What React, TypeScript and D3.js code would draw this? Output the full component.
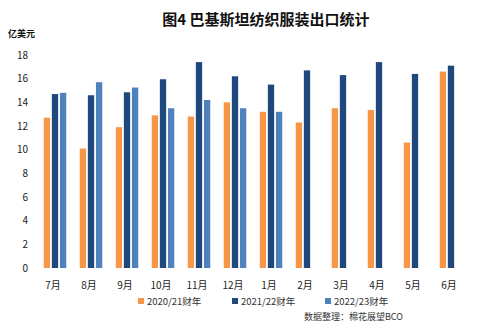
import React from "react";
import * as d3 from "d3";

const months = ["7月", "8月", "9月", "10月", "11月", "12月", "1月", "2月", "3月", "4月", "5月", "6月"];
const seriesNames = ["2020/21财年", "2021/22财年", "2022/23财年"];
const fy2021 = [12.7, 10.1, 11.9, 12.9, 12.8, 14.0, 13.2, 12.3, 13.5, 13.35, 10.6, 16.6];
const fy2122 = [14.7, 14.6, 14.85, 15.95, 17.4, 16.2, 15.5, 16.7, 16.3, 17.4, 16.4, 17.1];
const fy2223: (number | null)[] = [14.8, 15.7, 15.25, 13.5, 14.2, 13.5, 13.2, null, null, null, null, null];
const yTicks = [0, 2, 4, 6, 8, 10, 12, 14, 16, 18];
const colors = ["#F79646", "#1F497D", "#4F81BD"];

const W = 487;
const H = 330;

export default function App() {
  const x = d3.scaleBand<string>().domain(months).range([37, 469]).paddingInner(0).paddingOuter(0);
  const inner = d3.scaleBand<number>().domain([0, 1, 2]).range([0, 22.5]).paddingInner(0.22);
  const y = d3.scaleLinear().domain([0, 18]).range([268, 55]);
  const series = [fy2021, fy2122, fy2223];
  const font = "'Noto Sans CJK SC', 'Noto Sans', sans-serif";
  const legendX = [138, 232, 325];

  return (
    <svg width={W} height={H} style={{ position: "absolute", left: 0, top: 0, background: "#fff" }}>
      <text x={266} y={25} textAnchor="middle" fontFamily={font} fontWeight="bold" fontSize={15} fill="#111">
        图4 巴基斯坦纺织服装出口统计
      </text>
      <text x={8} y={37} fontFamily={font} fontWeight="bold" fontSize={9} fill="#111">
        亿美元
      </text>
      {yTicks.map((t) => (
        <text key={t} x={28} y={y(t) + 3.5} textAnchor="end" fontFamily={font} fontSize={10} fill="#222">
          {t}
        </text>
      ))}
      {months.map((m, i) => {
        const gx = (x(m) as number) + x.bandwidth() / 2 - 11.25;
        return (
          <g key={m}>
            {series.map((s, k) => {
              const v = s[i];
              if (v == null) return null;
              return (
                <rect
                  key={k}
                  x={gx + (inner(k) as number)}
                  y={y(v)}
                  width={inner.bandwidth()}
                  height={y(0) - y(v)}
                  fill={colors[k]}
                />
              );
            })}
            <text
              x={(x(m) as number) + x.bandwidth() / 2 - 2}
              y={289}
              textAnchor="middle"
              fontFamily={font}
              fontSize={10}
              fill="#222"
            >
              {m}
            </text>
          </g>
        );
      })}
      {seriesNames.map((n, k) => (
        <g key={n}>
          <rect x={legendX[k]} y={298} width={6} height={6} fill={colors[k]} />
          <text x={legendX[k] + 9} y={304.5} fontFamily={font} fontSize={9.5} fill="#333">
            {n}
          </text>
        </g>
      ))}
      <text x={403} y={320} textAnchor="end" fontFamily={font} fontSize={9} fill="#333">
        数据整理：棉花展望BCO
      </text>
    </svg>
  );
}
